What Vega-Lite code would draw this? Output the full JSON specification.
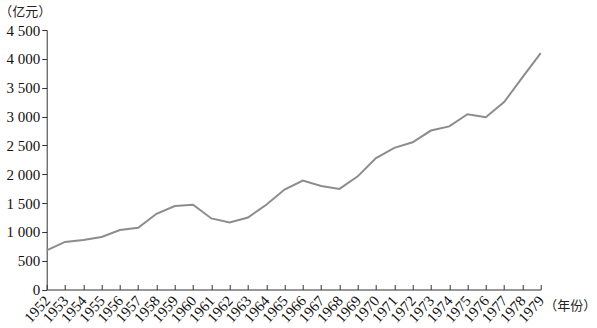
{
  "$schema": "https://vega.github.io/schema/vega-lite/v6.json",
  "width": 494,
  "height": 259.5,
  "autosize": {"type": "none"},
  "padding": {"left": 46.7, "top": 30, "right": 56.3, "bottom": 38.5},
  "background": "white",
  "config": {"view": {"stroke": null}},
  "data": {"values": [
    {"year": "1952", "value": 679.1},
    {"year": "1953", "value": 824.4},
    {"year": "1954", "value": 859.8},
    {"year": "1955", "value": 911.6},
    {"year": "1956", "value": 1030.7},
    {"year": "1957", "value": 1071.4},
    {"year": "1958", "value": 1312.3},
    {"year": "1959", "value": 1447.5},
    {"year": "1960", "value": 1470.1},
    {"year": "1961", "value": 1232.3},
    {"year": "1962", "value": 1162.2},
    {"year": "1963", "value": 1248.3},
    {"year": "1964", "value": 1469.9},
    {"year": "1965", "value": 1734.0},
    {"year": "1966", "value": 1888.7},
    {"year": "1967", "value": 1794.2},
    {"year": "1968", "value": 1744.1},
    {"year": "1969", "value": 1962.2},
    {"year": "1970", "value": 2279.7},
    {"year": "1971", "value": 2456.9},
    {"year": "1972", "value": 2552.4},
    {"year": "1973", "value": 2756.2},
    {"year": "1974", "value": 2827.7},
    {"year": "1975", "value": 3039.5},
    {"year": "1976", "value": 2988.6},
    {"year": "1977", "value": 3250.0},
    {"year": "1978", "value": 3678.7},
    {"year": "1979", "value": 4100.5}
  ]},
  "mark": {"type": "line", "color": "#8c8c8c", "strokeWidth": 2},
  "encoding": {
    "x": {
      "field": "year", "type": "ordinal",
      "scale": {"type": "point", "padding": 0},
      "axis": {
        "title": "（年份）",
        "titleFont": "Noto Sans CJK SC", "titleFontSize": 13, "titleFontWeight": "normal",
        "titleColor": "#222", "titleAlign": "left", "titleBaseline": "middle",
        "titleAnchor": null, "titleX": 497, "titleY": 16,
        "labelAngle": -48, "labelAlign": "right", "labelBaseline": "middle",
        "labelFont": "Liberation Serif", "labelFontSize": 15, "labelColor": "#111",
        "labelPadding": 13, "labelOverlap": false,
        "tickSize": -5, "tickColor": "#333", "domainColor": "#333",
        "grid": false
      }
    },
    "y": {
      "field": "value", "type": "quantitative",
      "scale": {"domain": [0, 4500], "nice": false, "zero": true},
      "axis": {
        "values": [0, 500, 1000, 1500, 2000, 2500, 3000, 3500, 4000, 4500],
        "labelExpr": "replace(format(datum.value, ','), ',', ' ')",
        "title": "（亿元）",
        "titleFont": "Noto Sans CJK SC", "titleFontSize": 13, "titleFontWeight": "normal",
        "titleColor": "#222", "titleAngle": 0, "titleAlign": "left", "titleBaseline": "middle",
        "titleAnchor": null, "titleX": -48, "titleY": -19,
        "labelFont": "Liberation Serif", "labelFontSize": 15, "labelColor": "#111",
        "labelPadding": 2,
        "tickSize": 5, "tickColor": "#333", "domainColor": "#333",
        "grid": false
      }
    }
  }
}
